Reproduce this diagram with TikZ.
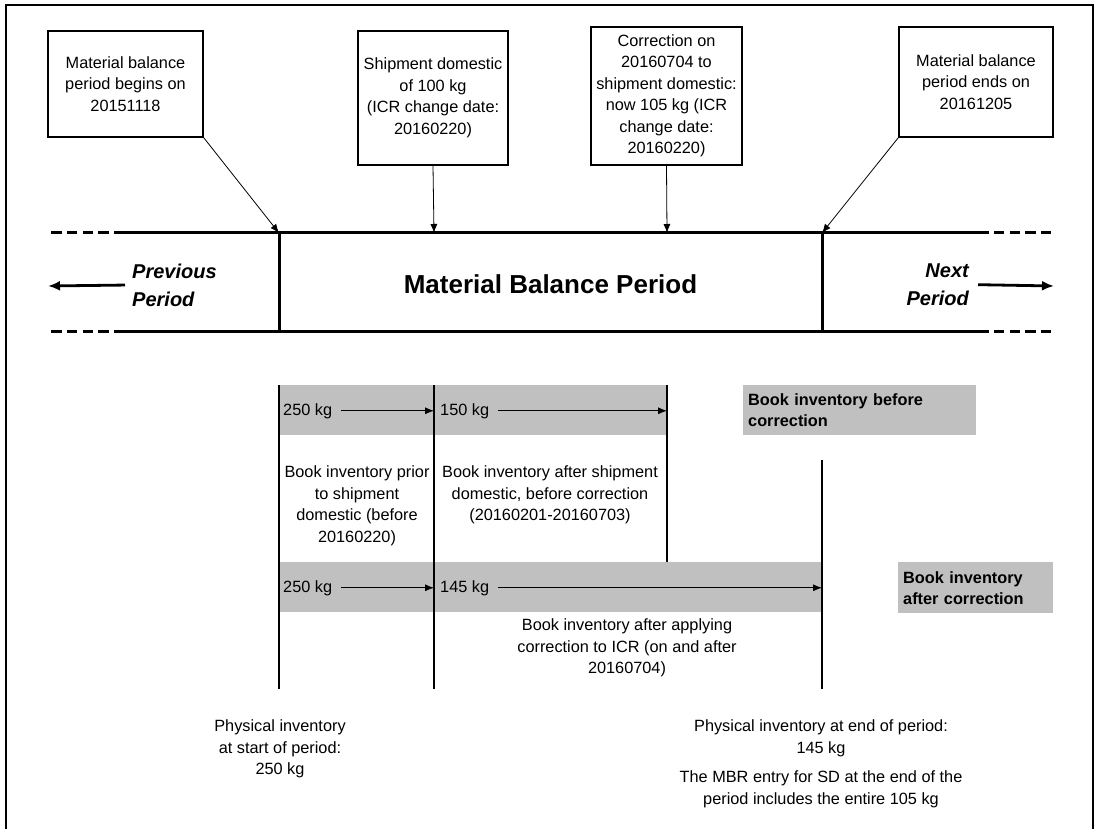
\documentclass[tikz,border=0pt]{standalone}
\usepackage{fontspec}
\setmainfont{Liberation Sans}
\usetikzlibrary{arrows.meta}
\definecolor{bandgray}{HTML}{C0C0C0}
\begin{document}
\begin{tikzpicture}[x=1pt,y=-1pt,
  txt/.style={font=\fontsize{16.3}{21.5}\selectfont, align=center, inner sep=0pt},
  topbox/.style={draw, line width=1.6pt, txt},
  ptr/.style={-{Latex[length=9pt,width=7pt]}, line width=0.8pt},
  bigptr/.style={-{Latex[length=12pt,width=10pt]}, line width=2.8pt},
  tl/.style={line width=3pt},
  tldash/.style={line width=3pt, dash pattern=on 10.5pt off 5.3pt},
  vline/.style={line width=2.4pt},
  band/.style={fill=bandgray, draw=none, inner sep=0pt, anchor=north west},
  lbl/.style={fill=bandgray, draw=none, anchor=north west, inner xsep=5pt, inner ysep=0pt,
    font=\fontsize{16.3}{21}\selectfont\bfseries, align=left},
  period/.style={font=\fontsize{20}{28}\selectfont\bfseries\itshape, inner sep=0pt}
]
\useasboundingbox (0,0) rectangle (1098,829);
% frame
\draw[line width=2pt] (6,829) -- (6,5) -- (1093,5) -- (1093,829);

% timeline coordinates
\coordinate (P1) at (279,233);
\coordinate (P2) at (434,233);
\coordinate (P3) at (667,233);
\coordinate (P4) at (822,233);
\coordinate (Q1) at (279,331);
\coordinate (Q4) at (822,331);
\coordinate (TLa) at (51,233);
\coordinate (TLb) at (125,233);
\coordinate (TLc) at (978,233);
\coordinate (TLd) at (1051,233);
\coordinate (BLa) at (51,331);
\coordinate (BLb) at (125,331);
\coordinate (BLc) at (978,331);
\coordinate (BLd) at (1051,331);

\draw[tldash] (TLa) -- (TLb);
\draw[tl] (TLb) -- (TLc);
\draw[tldash] (TLc) -- (TLd);
\draw[tldash] (BLa) -- (BLb);
\draw[tl] (BLb) -- (BLc);
\draw[tldash] (BLc) -- (BLd);
\draw[tl] (P1) -- (Q1);
\draw[tl] (P4) -- (Q4);

% top boxes
\node[topbox, minimum width=155, minimum height=106] (b1) at (125.5,84)
  {Material balance\\period begins on\\20151118};
\node[topbox, minimum width=150, minimum height=134] (b2) at (433,98)
  {Shipment domestic\\of 100 kg\\(ICR change date:\\20160220)};
\node[topbox, minimum width=151, minimum height=138] (b3) at (666.5,96)
  {Correction on\\20160704 to\\shipment domestic:\\now 105 kg (ICR\\change date:\\20160220)};
\node[topbox, minimum width=154, minimum height=110] (b4) at (976,82)
  {Material balance\\period ends on\\20161205};
\draw[ptr] (b1.south east) -- (P1);
\draw[ptr] (b2.south) -- (P2);
\draw[ptr] (b3.south) -- (P3);
\draw[ptr] (b4.south west) -- (P4);

% period labels
\node[period, anchor=north west, align=left] (prev) at (132,263.5) {Previous\\Period};
\node[period, anchor=north east, align=right] (next) at (969,263.5) {Next\\Period};
\coordinate (prevL) at (48,286);
\coordinate (nextR) at (1054,286);
\draw[bigptr] ([xshift=-7pt]prev.west) -- (prevL);
\draw[bigptr] ([xshift=9pt]next.east) -- (nextR);
\node[font=\fontsize{26}{30}\selectfont\bfseries, inner sep=0pt, anchor=base] (mbp) at (550.5,294)
  {Material Balance Period};

% bands
\node[band, minimum width=388, minimum height=50] (band1) at (279,385) {};
\node[band, minimum width=543, minimum height=50] (band2) at (279,562) {};
\node[lbl, minimum width=233, minimum height=50, text width=223] (l1) at (743,385)
  {Book inventory before\\correction};
\node[lbl, minimum width=155, minimum height=51, text width=145] (l2) at (898,562)
  {Book inventory\\after correction};

% lower verticals
\coordinate (v1t) at (279,385);
\coordinate (v1b) at (279,689);
\coordinate (v2t) at (434,385);
\coordinate (v2b) at (434,689);
\coordinate (v3t) at (667,385);
\coordinate (v3b) at (667,562);
\coordinate (v4t) at (822,460);
\coordinate (v4b) at (822,689);
\draw[vline] (v1t) -- (v1b);
\draw[vline] (v2t) -- (v2b);
\draw[vline] (v3t) -- (v3b);
\draw[vline] (v4t) -- (v4b);

% band texts and arrows
\node[txt, anchor=base west] (a1) at (283,415) {250 kg};
\node[txt, anchor=base west] (a2) at (440,415) {150 kg};
\node[txt, anchor=base west] (c1) at (283,592) {250 kg};
\node[txt, anchor=base west] (c2) at (440,592) {145 kg};
\draw[ptr] ([xshift=9pt]a1.east) -- (a1 -| v2t);
\draw[ptr] ([xshift=9pt]a2.east) -- (a2 -| v3t);
\draw[ptr] ([xshift=9pt]c1.east) -- (c1 -| v2t);
\draw[ptr] ([xshift=9pt]c2.east) -- (c2 -| v4t);

% descriptive texts
\node[txt, anchor=north] (d1) at (357,465.5)
  {Book inventory prior\\to shipment\\domestic (before\\20160220)};
\node[txt, anchor=north] (d2) at (550,465.5)
  {Book inventory after shipment\\domestic, before correction\\(20160201-20160703)};
\node[txt, anchor=north] (d3) at (627,618.5)
  {Book inventory after applying\\correction to ICR (on and after\\20160704)};
\node[txt, anchor=north] (d4) at (280,719.5)
  {Physical inventory\\at start of period:\\250 kg};
\node[txt, anchor=north] (d5) at (821,719.5)
  {Physical inventory at end of period:\\145 kg};
\node[txt, anchor=north] (d6) at (821,770.5)
  {The MBR entry for SD at the end of the\\period includes the entire 105 kg};
\end{tikzpicture}
\end{document}
